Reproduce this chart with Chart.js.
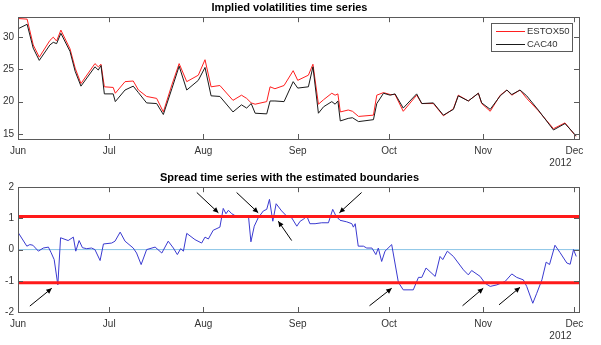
<!DOCTYPE html>
<html>
<head>
<meta charset="utf-8">
<script src="https://cdn.jsdelivr.net/npm/chart.js@4.4.0/dist/chart.umd.min.js"></script>
<style>
  body { margin: 0; background: #fff; }
  #wrap { position: relative; width: 601px; height: 345px; }
  canvas { position: absolute; left: 0; }
</style>
</head>
<body>
<div id="wrap">
  <canvas id="volChart" width="601" height="170" style="top:0"></canvas>
  <canvas id="spreadChart" width="601" height="175" style="top:170px"></canvas>
</div>
<script>
// x values are days counted from 1 June 2012
var monthDays = [0, 30, 61, 92, 122, 153, 183];
var monthNames = ["Jun", "Jul", "Aug", "Sep", "Oct", "Nov", "Dec"];
var yearLabel = "2012";

var volDays = [0, 3, 5, 7, 10.5, 11.6, 12.7, 14.1, 17.1, 18.8, 20.7, 25.3, 26.4, 27.3, 28.4, 31.3, 32, 35.2, 37.9, 39.6,
  42.3, 45.6, 47.8, 50.6, 53, 55.5, 59.3, 61.5, 63.5, 66.4, 70.7, 73.5, 75.2, 76.7, 78, 81.8, 82.9, 84.5, 87.5, 90.5,
  92, 95.5, 97, 98.8, 100.5, 103.2, 104.3, 105.2, 106, 108.6, 110, 112, 116.9, 118, 120.2, 122.4, 124, 126.7, 131.1, 132.8,
  136.6, 139.9, 143.2, 144.8, 148.1, 151.4, 152.5, 155.3, 158.6, 160.8, 162.4, 165.1, 167.3, 171.1, 176.1, 179.9, 183.5];
var estox50 = [32.9, 32.8, 28.8, 26.9, 29.5, 30.0, 29.4, 31.1, 28.2, 25.2, 22.8, 25.9, 25.4, 25.8, 22.3, 22.2, 21.3, 23.1, 23.2, 21.8,
  20.8, 20.5, 18.4, 22.6, 25.9, 23.1, 24.1, 26.5, 22.3, 22.5, 20.2, 21.0, 20.5, 19.8, 19.6, 20.0, 22.3, 22.0, 22.5, 24.8,
  23.3, 24.1, 25.8, 19.6, 20.3, 21.3, 21.0, 21.2, 18.4, 18.7, 18.5, 17.7, 17.9, 21.0, 21.4, 21.1, 21.1, 18.5, 21.0, 19.7,
  19.7, 17.8, 18.9, 21.0, 20.1, 21.3, 19.7, 18.5, 21.0, 21.8, 21.0, 21.8, 20.5, 18.6, 15.8, 16.7, 14.6];
var cac40 = [31.3, 32.0, 28.3, 26.4, 28.8, 29.2, 29.0, 30.6, 27.8, 24.7, 22.4, 25.4, 24.9, 25.6, 21.2, 21.2, 20.0, 21.8, 22.4, 21.4,
  19.8, 19.7, 18.0, 22.0, 25.5, 21.8, 23.3, 25.3, 20.9, 20.8, 18.4, 19.5, 19.0, 19.7, 18.2, 18.1, 20.1, 20.1, 20.0, 23.1,
  22.1, 22.3, 25.4, 18.2, 19.2, 20.0, 19.6, 20.1, 17.0, 17.4, 17.5, 16.9, 17.2, 19.7, 21.3, 21.0, 21.2, 19.0, 21.2, 19.7,
  19.8, 17.9, 18.8, 20.9, 20.1, 21.3, 19.8, 18.8, 20.9, 21.8, 21.1, 21.8, 20.9, 18.7, 15.6, 16.6, 14.7];
var volTicks = [15, 20, 25, 30];

var spreadDays = [0.1, 2.9, 3.9, 4.9, 6.7, 8.3, 10, 10.9, 11.9, 13.1, 14, 16.5, 18.2, 19, 20.1, 21.2, 22.6, 24.2, 25.3, 27,
  28.1, 30.8, 31.9, 33.6, 35.2, 37.9, 39, 40.5, 42.3, 45.1, 47.3, 49.4, 51.1, 52.4, 53.5, 54.4, 55.5, 58.2, 60.4, 61.5,
  62.6, 64.2, 66.4, 67.5, 68.4, 69.2, 70.3, 71.7, 73.7, 75.8, 76.6, 77.7, 79, 80.7, 81.8, 82.7, 83.8, 84.9, 86.7, 88.4,
  90, 91.7, 92.8, 93.8, 95, 96, 97.7, 99.9, 102.1, 103.5, 104.6, 105.9, 108.1, 109.8, 110.3, 110.9, 111.9, 113.6, 114.7, 116.4,
  117.7, 118.5, 119.6, 120.7, 122.9, 125.1, 126.7, 130, 131.7, 132.8, 134.2, 137.2, 138.8, 139.7, 141.2, 143.2, 146.5, 148.1, 149.2, 152,
  153.6, 155.3, 157.5, 160.2, 162.4, 164, 166.2, 167.3, 169.3, 170.6, 172.3, 173.7, 174.8, 176.6, 178.3, 180.5, 181.6, 182.7, 183.6];
var spread = [0.54, 0.11, 0.16, 0.14, -0.05, 0.05, 0.08, -0.1, -0.32, -1.13, 0.38, 0.29, 0.40, -0.05, 0.29, 0.06, 0.03, 0.05, 0.0, -0.35,
  0.18, 0.21, 0.27, 0.56, 0.27, 0.05, -0.11, -0.48, 0.0, 0.08, -0.11, 0.27, 0.05, -0.16, 0.03, -0.05, 0.52, 0.32, 0.21, 0.40,
  0.34, 0.62, 0.72, 1.32, 1.15, 1.26, 1.15, 1.07, 1.08, 1.07, 0.25, 0.75, 1.02, 1.24, 1.29, 1.61, 0.91, 1.47, 1.24, 1.07,
  1.02, 0.75, 0.91, 0.97, 1.07, 0.83, 0.83, 0.86, 0.86, 1.29, 1.07, 0.94, 0.89, 0.83, 0.72, 0.83, 0.11, 0.11, 0.05, 0.05,
  -0.16, 0.05, -0.38, -0.05, 0.16, -1.05, -1.29, -1.29, -0.89, -0.89, -0.59, -0.86, -0.22, -0.32, -0.05, -0.22, -0.65, -0.81, -0.67, -0.86,
  -1.08, -1.18, -1.13, -1.02, -0.78, -0.89, -0.97, -1.18, -1.72, -1.4, -0.97, -0.40, -0.48, 0.14, -0.1, -0.43, -0.47, 0.0, -0.22];
var upperBound = 1.06;
var lowerBound = -1.06;
var spreadTicks = [-2, -1, 0, 1, 2];

// arrows pointing at the boundary crossings (day, value)
var arrowTailDay = [3.9, 58.8, 71.9, 90, 113, 115.6, 146.2, 158.2];
var arrowTailVal = [-1.81, 1.83, 1.83, 0.29, 1.83, -1.8, -1.8, -1.77];
var arrowHeadDay = [11.1, 65.9, 79, 85.6, 105.7, 122.9, 153, 165.1];
var arrowHeadVal = [-1.24, 1.18, 1.18, 0.91, 1.18, -1.24, -1.24, -1.21];

var xMin = 0, xMax = 184.5;
var axisColor = "#5a5a5a";
var textColor = "#333333";
var fontFamily = "'Liberation Sans', Arial, sans-serif";

function pts(xs, ys) {
  return xs.map(function (x, i) { return { x: x, y: ys[i] }; });
}

// MATLAB-like box with inward ticks and the year label
var boxPlugin = {
  id: "box",
  afterDatasetsDraw: function (chart) {
    var ctx = chart.ctx, a = chart.chartArea;
    var xs = chart.scales.x, ys = chart.scales.y;
    ctx.save();
    ctx.strokeStyle = axisColor;
    ctx.lineWidth = 1;
    ctx.strokeRect(Math.round(a.left) + 0.5, Math.round(a.top) + 0.5,
      Math.round(a.right - a.left), Math.round(a.bottom - a.top));
    ctx.beginPath();
    xs.ticks.forEach(function (t) {
      var px = Math.round(xs.getPixelForValue(t.value)) + 0.5;
      ctx.moveTo(px, a.bottom); ctx.lineTo(px, a.bottom - 5);
      ctx.moveTo(px, a.top); ctx.lineTo(px, a.top + 5);
    });
    ys.ticks.forEach(function (t) {
      var py = Math.round(ys.getPixelForValue(t.value)) + 0.5;
      ctx.moveTo(a.left, py); ctx.lineTo(a.left + 5, py);
      ctx.moveTo(a.right, py); ctx.lineTo(a.right - 5, py);
    });
    ctx.stroke();
    ctx.fillStyle = textColor;
    ctx.font = "10px " + fontFamily;
    ctx.textAlign = "center";
    ctx.textBaseline = "middle";
    ctx.fillText(yearLabel, xs.getPixelForValue(monthDays[6]) - 14, a.bottom + 24);
    ctx.restore();
  }
};

var legendPlugin = {
  id: "boxLegend",
  afterDraw: function (chart) {
    var ctx = chart.ctx, a = chart.chartArea;
    var w = 81, h = 28;
    var left = Math.round(a.right - 7 - w), top = Math.round(a.top + 6);
    ctx.save();
    ctx.fillStyle = "#fff";
    ctx.fillRect(left, top, w, h);
    ctx.strokeStyle = axisColor;
    ctx.lineWidth = 1;
    ctx.strokeRect(left + 0.5, top + 0.5, w, h);
    ctx.font = "9.5px " + fontFamily;
    ctx.textBaseline = "middle";
    ctx.textAlign = "left";
    chart.data.datasets.forEach(function (ds, i) {
      var y = top + 8 + i * 13 + 0.5;
      ctx.strokeStyle = ds.borderColor;
      ctx.beginPath();
      ctx.moveTo(left + 5, y); ctx.lineTo(left + 34, y);
      ctx.stroke();
      ctx.fillStyle = textColor;
      ctx.fillText(ds.label, left + 36, y);
    });
    ctx.restore();
  }
};

var arrowPlugin = {
  id: "arrows",
  afterDatasetsDraw: function (chart) {
    var ctx = chart.ctx, xs = chart.scales.x, ys = chart.scales.y;
    ctx.save();
    ctx.strokeStyle = "#000";
    ctx.fillStyle = "#000";
    ctx.lineWidth = 1;
    arrowTailDay.forEach(function (d, i) {
      var x1 = xs.getPixelForValue(d), y1 = ys.getPixelForValue(arrowTailVal[i]);
      var x2 = xs.getPixelForValue(arrowHeadDay[i]), y2 = ys.getPixelForValue(arrowHeadVal[i]);
      var ang = Math.atan2(y2 - y1, x2 - x1), L = 6, sp = 0.45;
      ctx.beginPath();
      ctx.moveTo(x1, y1); ctx.lineTo(x2, y2);
      ctx.stroke();
      ctx.beginPath();
      ctx.moveTo(x2, y2);
      ctx.lineTo(x2 - L * Math.cos(ang - sp), y2 - L * Math.sin(ang - sp));
      ctx.lineTo(x2 - L * Math.cos(ang + sp), y2 - L * Math.sin(ang + sp));
      ctx.closePath();
      ctx.fill();
    });
    ctx.restore();
  }
};

function baseOptions(title, yMin, yMax, yTicks, xAxisHeight) {
  return {
    responsive: false,
    animation: false,
    layout: { padding: { left: 0, right: 22, top: 0, bottom: 0 } },
    elements: { point: { radius: 0 }, line: { tension: 0 } },
    plugins: {
      legend: { display: false },
      tooltip: { enabled: false },
      title: {
        display: true,
        text: title,
        color: "#000",
        font: { family: fontFamily, size: 11, weight: "bold" },
        padding: { top: 1, bottom: 3 }
      }
    },
    scales: {
      x: {
        type: "linear",
        min: xMin,
        max: xMax,
        grid: { display: false, drawTicks: false },
        border: { display: false },
        afterBuildTicks: function (s) { s.ticks = monthDays.map(function (v) { return { value: v }; }); },
        afterFit: function (s) { s.height = xAxisHeight; },
        ticks: {
          autoSkip: false,
          maxRotation: 0,
          padding: 6,
          color: textColor,
          font: { family: fontFamily, size: 10 },
          callback: function (v) { return monthNames[monthDays.indexOf(v)]; }
        }
      },
      y: {
        min: yMin,
        max: yMax,
        grid: { display: false, drawTicks: false },
        border: { display: false },
        afterBuildTicks: function (s) { s.ticks = yTicks.map(function (v) { return { value: v }; }); },
        afterFit: function (s) { s.width = 18; },
        ticks: {
          padding: 4,
          color: textColor,
          font: { family: fontFamily, size: 10 }
        }
      }
    }
  };
}

new Chart(document.getElementById("volChart"), {
  type: "line",
  data: {
    datasets: [
      { label: "ESTOX50", data: pts(volDays, estox50), borderColor: "#ff1f1f", borderWidth: 1, order: 1 },
      { label: "CAC40", data: pts(volDays, cac40), borderColor: "#1a1a1a", borderWidth: 1, order: 0 }
    ]
  },
  options: baseOptions("Implied volatilities time series", 14.2, 33.1, volTicks, 31),
  plugins: [boxPlugin, legendPlugin]
});

new Chart(document.getElementById("spreadChart"), {
  type: "line",
  data: {
    datasets: [
      { label: "upper", data: pts([xMin, xMax], [upperBound, upperBound]), borderColor: "#ff1a1a", borderWidth: 3 },
      { label: "lower", data: pts([xMin, xMax], [lowerBound, lowerBound]), borderColor: "#ff1a1a", borderWidth: 3 },
      { label: "spread", data: pts(spreadDays, spread), borderColor: "#3a3ad0", borderWidth: 1 },
      { label: "zero", data: pts([xMin, xMax], [0, 0]), borderColor: "#88c4e6", borderWidth: 1 }
    ]
  },
  options: baseOptions("Spread time series with the estimated boundaries", -2, 2, spreadTicks, 33),
  plugins: [boxPlugin, arrowPlugin]
});
</script>
</body>
</html>
